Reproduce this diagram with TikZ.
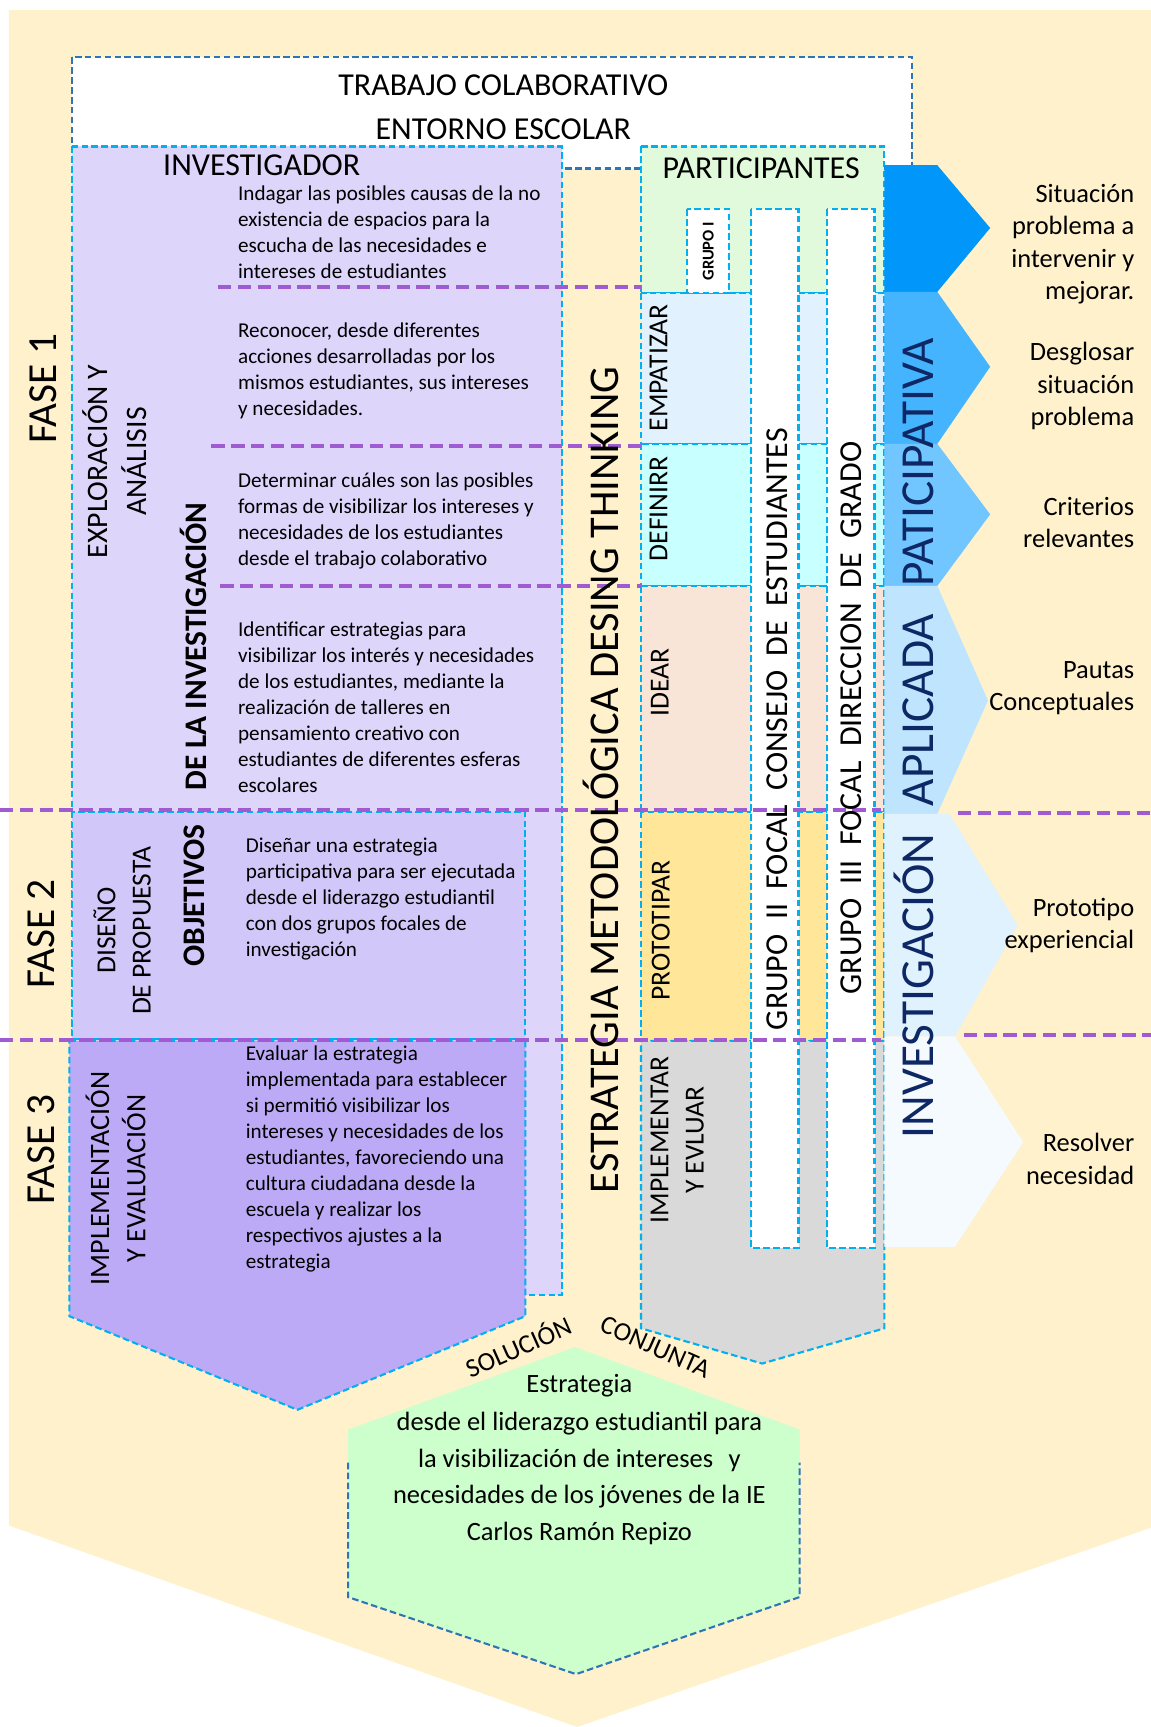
\documentclass[tikz,border=0pt]{standalone}
\usepackage{fontspec}
\setmainfont{Carlito}
\newcommand\fsz[2]{\fontsize{#1}{#2}\selectfont}
\definecolor{beige}{RGB}{254,241,204}
\definecolor{lavA}{RGB}{221,213,250}
\definecolor{lavB}{RGB}{210,199,249}
\definecolor{lavC}{RGB}{188,170,246}
\definecolor{lblue}{RGB}{0,176,240}
\definecolor{dblue}{RGB}{46,117,182}
\definecolor{purp}{RGB}{160,90,210}
\definecolor{partg}{RGB}{226,250,220}
\definecolor{empc}{RGB}{225,242,254}
\definecolor{defc}{RGB}{200,255,255}
\definecolor{ideac}{RGB}{248,229,216}
\definecolor{protc}{RGB}{255,230,153}
\definecolor{implc}{RGB}{217,217,217}
\definecolor{chA}{RGB}{0,150,250}
\definecolor{chB}{RGB}{69,180,255}
\definecolor{chC}{RGB}{114,198,255}
\definecolor{chD}{RGB}{190,229,253}
\definecolor{chE}{RGB}{224,242,254}
\definecolor{chF}{RGB}{244,250,254}
\definecolor{greenc}{RGB}{204,255,204}
\definecolor{navy}{RGB}{13,40,100}
\begin{document}
\begin{tikzpicture}[x=1pt,y=-1pt,
  lb/.style={draw=lblue, line width=1.9pt, dash pattern=on 6pt off 3pt},
  db/.style={draw=dblue, line width=1.9pt, dash pattern=on 6pt off 3pt},
  pl/.style={draw=purp, line width=3.6pt, dash pattern=on 12pt off 6pt},
  desc/.style={anchor=north west, inner sep=0pt, align=left, font=\fsz{19.2}{23.6}},
  rtxt/.style={anchor=north east, inner sep=0pt, align=right, font=\fsz{24}{29.5}},
  vcap/.style={rotate=90, inner sep=0pt},
  head/.style={inner sep=0pt, font=\fsz{29}{34}},
]
\useasboundingbox (0,0) rectangle (1045,1568);
% background
\fill[beige] (8,9) -- (1045,9) -- (1045,1387) -- (524,1568) -- (8,1385) -- cycle;
% top white box
\path[fill=white, db] (65,52) rectangle (828,153);
% lavender investigator area
\path[fill=lavA, lb] (65,133) rectangle (510,1176);
\path[fill=lavB, lb] (65,737) rectangle (477,943);
\path[fill=lavC, lb] (63,945) -- (477,945) -- (477,1195) -- (270,1280) -- (63,1195) -- cycle;
% participants and design thinking cells
\path[fill=partg, lb] (582,133) rectangle (803,266);
\path[fill=empc, lb] (582,266) rectangle (803,403);
\path[fill=defc, lb] (582,403) rectangle (803,532);
\path[fill=ideac, lb] (582,532) rectangle (803,737);
\path[fill=protc, lb] (582,737) rectangle (803,945);
\path[fill=implc, lb] (582,945) -- (803,945) -- (803,1206) -- (692,1238) -- (582,1206) -- cycle;
\path[fill=white, lb] (624,190) rectangle (662,266);
\path[fill=white, lb] (682,190) rectangle (725,1133);
\path[fill=white, lb] (751,190) rectangle (794,1133);
% chevrons
\fill[chA] (803,150) -- (851,150) -- (899,207) -- (851,265) -- (803,265) -- cycle;
\fill[chB] (803,265) -- (851,265) -- (899,333) -- (851,403) -- (803,403) -- cycle;
\fill[chC] (803,403) -- (851,403) -- (899,467) -- (851,532) -- (803,532) -- cycle;
\fill[chD] (803,532) -- (851,532) -- (897,636) -- (851,739) -- (803,739) -- cycle;
\fill[chE] (803,739) -- (862,739) -- (924,840) -- (867,941) -- (803,941) -- cycle;
\fill[chF] (803,941) -- (867,941) -- (929,1037) -- (867,1132) -- (803,1132) -- cycle;
% purple dashed separators
\draw[pl] (198,261) -- (582,261);
\draw[pl] (192,405) -- (582,405);
\draw[pl] (200,532) -- (582,532);
\draw[pl] (0,735) -- (800,735);
\draw[pl] (870,738) -- (1045,738);
\draw[pl] (0,944) -- (800,944);
\draw[pl] (875,940) -- (1045,940);
% green hexagon
\fill[greenc] (522,1223) -- (726,1298) -- (726,1450) -- (523,1520) -- (316,1450) -- (316,1298) -- cycle;
\draw[db] (316,1328) -- (316,1450) -- (523,1520) -- (726,1450) -- (726,1328);

% headings
\node[head] (trabajo) at (457,77) {TRABAJO COLABORATIVO};
\node[head] (entorno) at (457,117) {ENTORNO ESCOLAR};
\node[head, anchor=west] (investigador) at (148,150) {INVESTIGADOR};
\node[head] (participantes) at (691,153) {PARTICIPANTES};

% objectives texts
\node[desc] (d1) at (216,165) {\rule{0pt}{17pt}Indagar las posibles causas de la no\\existencia de espacios para la\\escucha de las necesidades e\\intereses de estudiantes};
\node[desc] (d2) at (216,289) {\rule{0pt}{17pt}Reconocer, desde diferentes\\acciones desarrolladas por los\\mismos estudiantes, sus intereses\\y necesidades.};
\node[desc] (d3) at (216,425) {\rule{0pt}{17pt}Determinar cuáles son las posibles\\formas de visibilizar los intereses y\\necesidades de los estudiantes\\desde el trabajo colaborativo};
\node[desc] (d4) at (216,561) {\rule{0pt}{17pt}Identificar estrategias para\\visibilizar los interés y necesidades\\de los estudiantes, mediante la\\realización de talleres en\\pensamiento creativo con\\estudiantes de diferentes esferas\\escolares};
\node[desc] (d5) at (223,757) {\rule{0pt}{17pt}Diseñar una estrategia\\participativa para ser ejecutada\\desde el liderazgo estudiantil\\con dos grupos focales de\\investigación};
\node[desc] (d6) at (223,946) {\rule{0pt}{17pt}Evaluar la estrategia\\implementada para establecer\\si permitió visibilizar los\\intereses y necesidades de los\\estudiantes, favoreciendo una\\cultura ciudadana desde la\\escuela y realizar los\\respectivos ajustes a la\\estrategia};

% left rotated labels
\node[vcap, font=\fsz{37.5}{40}] (fase1) at (39,353) {FASE 1};
\node[vcap, font=\fsz{37.5}{40}] (fase2) at (37,848) {FASE 2};
\node[vcap, font=\fsz{37.5}{40}] (fase3) at (37,1044) {FASE 3};
\node[vcap, align=center, font=\fsz{27}{36}] (explo) at (104,419) {EXPLORACIÓN Y\\ANÁLISIS};
\node[vcap, align=center, font=\fsz{25}{32}] (diseno) at (111,845) {DISEÑO\\DE PROPUESTA};
\node[vcap, align=center, font=\fsz{25.5}{33}] (implem) at (105,1070) {IMPLEMENTACIÓN\\Y EVALUACIÓN};
\node[vcap, font=\bfseries\fsz{28.5}{34}] (objetivos) at (176,813) {OBJETIVOS};
\node[vcap, font=\bfseries\fsz{28.5}{34}] (delainv) at (176,587) {DE LA INVESTIGACIÓN};

% central column
\node[vcap, font=\fsz{38.5}{44}] (estrategia) at (546,708) {ESTRATEGIA METODOLÓGICA DESING THINKING};
\node[vcap, font=\fsz{25}{30}] (empatizar) at (598,334) {EMPATIZAR};
\node[vcap, font=\fsz{25}{30}] (definirr) at (598,462) {DEFINIRR};
\node[vcap, font=\fsz{25}{30}] (idear) at (599,620) {IDEAR};
\node[vcap, font=\fsz{25}{30}] (prototipar) at (600,845) {PROTOTIPAR};
\node[vcap, align=center, font=\fsz{25}{32}] (implementar) at (615,1035) {IMPLEMENTAR\\Y EVLUAR};
\node[vcap, font=\bfseries\fsz{15}{18}] (grupoI) at (643,228) {GRUPO I};
\node[vcap, font=\fsz{29}{34}] (grupoII) at (706,662) {GRUPO\ \ II\ \ FOCAL\ \ CONSEJO\ \ DE\ \ ESTUDIANTES};
\node[vcap, font=\fsz{29}{34}] (grupoIII) at (773,652) {GRUPO\ \ III\ \ FOCAL\ \ DIRECCION\ \ DE\ \ GRADO};
\node[vcap, font=\fsz{43}{48}, text=navy] (iap) at (830,670) {INVESTIGACIÓN\hspace{25pt}APLICADA\hspace{25pt}PATICIPATIVA};

% right texts
\node[rtxt] (r1) at (1030,161.5) {\rule{0pt}{22pt}Situación\\problema a\\intervenir y\\mejorar.};
\node[rtxt] (r2) at (1030,305.5) {\rule{0pt}{22pt}Desglosar\\situación\\problema};
\node[rtxt] (r3) at (1030,445.5) {\rule{0pt}{22pt}Criterios\\relevantes};
\node[rtxt] (r4) at (1030,593.5) {\rule{0pt}{22pt}Pautas\\Conceptuales};
\node[rtxt] (r5) at (1030,809.5) {\rule{0pt}{22pt}Prototipo\\experiencial};
\node[rtxt] (r6) at (1030,1023.5) {\rule{0pt}{22pt}Resolver\\necesidad};

% solution
\node[rotate=24, inner sep=0pt, font=\fsz{24}{26}] (solucion) at (470,1222) {SOLUCIÓN};
\node[rotate=-24, inner sep=0pt, font=\fsz{24}{26}] (conjunta) at (595,1223) {CONJUNTA};
\node[inner sep=0pt, font=\fsz{24}{33}] (gtitle) at (526,1258) {Estrategia};
\node[anchor=north, inner sep=0pt, align=center, font=\fsz{24}{33}] (gtxt) at (526,1277) {\rule{0pt}{22pt}desde el liderazgo estudiantil para\\la visibilización de intereses\hspace{14pt}y\\necesidades de los jóvenes de la IE\\Carlos Ramón Repizo};
\end{tikzpicture}
\end{document}
